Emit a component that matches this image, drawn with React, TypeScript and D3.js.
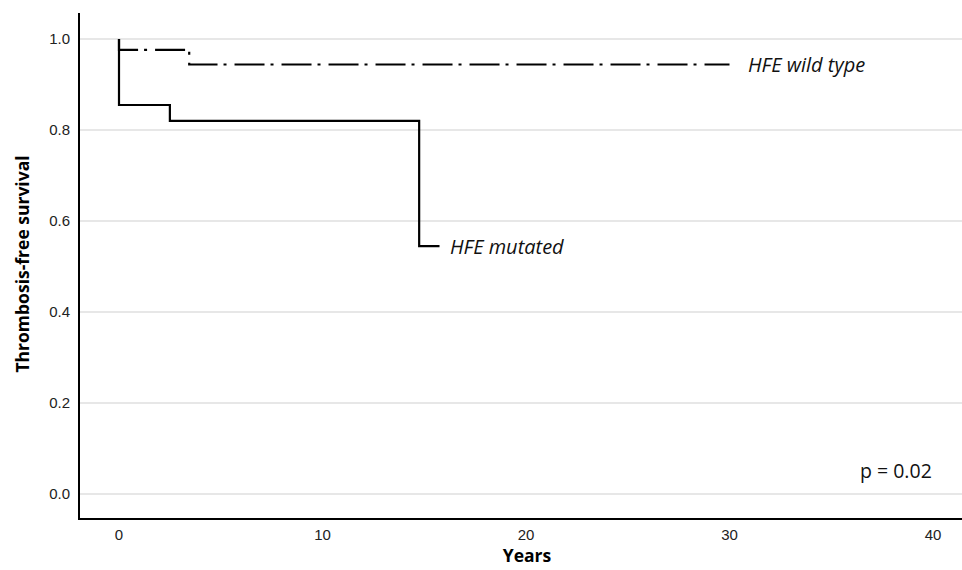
import * as d3 from 'd3';

// Kaplan-Meier steps
const mutatedTimes = [0, 0, 2.5, 14.75, 15.75];
const mutatedSurvival = [1.0, 0.855, 0.82, 0.545, 0.545];
const wildTimes = [0, 0, 3.45, 30];
const wildSurvival = [1.0, 0.976, 0.944, 0.944];

const xTicks = [0, 10, 20, 30, 40];
const yTicks = [0, 0.2, 0.4, 0.6, 0.8, 1.0];

const width = 962;
const height = 570;
const axisX = 79;
const axisY = 519;

export default function App() {
  const x = d3.scaleLinear().domain([0, 40]).range([119, 933]);
  const y = d3.scaleLinear().domain([0, 1]).range([494, 39]);

  const line = d3
    .line<[number, number]>()
    .x((d) => x(d[0]))
    .y((d) => y(d[1]))
    .curve(d3.curveStepAfter);

  const mutated = mutatedTimes.map((t, i) => [t, mutatedSurvival[i]] as [number, number]);
  const wild = wildTimes.map((t, i) => [t, wildSurvival[i]] as [number, number]);

  const tickFont = '"Liberation Sans", Arial, sans-serif';
  const labelFont = '"Open Sans", "Noto Sans", sans-serif';

  return (
    <svg
      width={width}
      height={height}
      style={{ position: 'absolute', left: 0, top: 0, background: '#fff' }}
    >
      {/* Gridlines */}
      {yTicks.map((t) => (
        <line key={t} x1={axisX} x2={width} y1={y(t)} y2={y(t)} stroke="#cfcfcf" strokeWidth={1} />
      ))}

      {/* Axes */}
      <line x1={axisX} x2={axisX} y1={13} y2={axisY + 1} stroke="#000" strokeWidth={2} />
      <line x1={axisX} x2={width} y1={axisY} y2={axisY} stroke="#000" strokeWidth={2} />

      {/* Tick labels */}
      {yTicks.map((t) => (
        <text
          key={t}
          x={70}
          y={y(t)}
          dy="0.35em"
          textAnchor="end"
          fontFamily={tickFont}
          fontSize={15}
          fill="#222"
        >
          {t.toFixed(1)}
        </text>
      ))}
      {xTicks.map((t) => (
        <text
          key={t}
          x={x(t)}
          y={539.5}
          textAnchor="middle"
          fontFamily={tickFont}
          fontSize={15}
          fill="#222"
        >
          {t}
        </text>
      ))}

      {/* Curves */}
      <path d={line(wild) || ''} fill="none" stroke="#000" strokeWidth={2.2} strokeDasharray="30,6,3,8" />
      <path d={line(mutated) || ''} fill="none" stroke="#000" strokeWidth={2.2} />

      {/* Curve labels */}
      <text x={748} y={72} fontFamily={labelFont} fontStyle="italic" fontSize={20} fill="#111">
        HFE wild type
      </text>
      <text x={450} y={254} fontFamily={labelFont} fontStyle="italic" fontSize={20} fill="#111">
        HFE mutated
      </text>
      <text x={860} y={478} fontFamily={labelFont} fontSize={19.5} fill="#111">
        p = 0.02
      </text>

      {/* Axis titles */}
      <text
        transform={`translate(29,264) rotate(-90)`}
        textAnchor="middle"
        fontFamily={labelFont}
        fontWeight="bold"
        fontSize={17.5}
        fill="#000"
      >
        Thrombosis-free survival
      </text>
      <text
        x={527}
        y={562}
        textAnchor="middle"
        fontFamily={labelFont}
        fontWeight="bold"
        fontSize={17.5}
        fill="#000"
      >
        Years
      </text>
    </svg>
  );
}
